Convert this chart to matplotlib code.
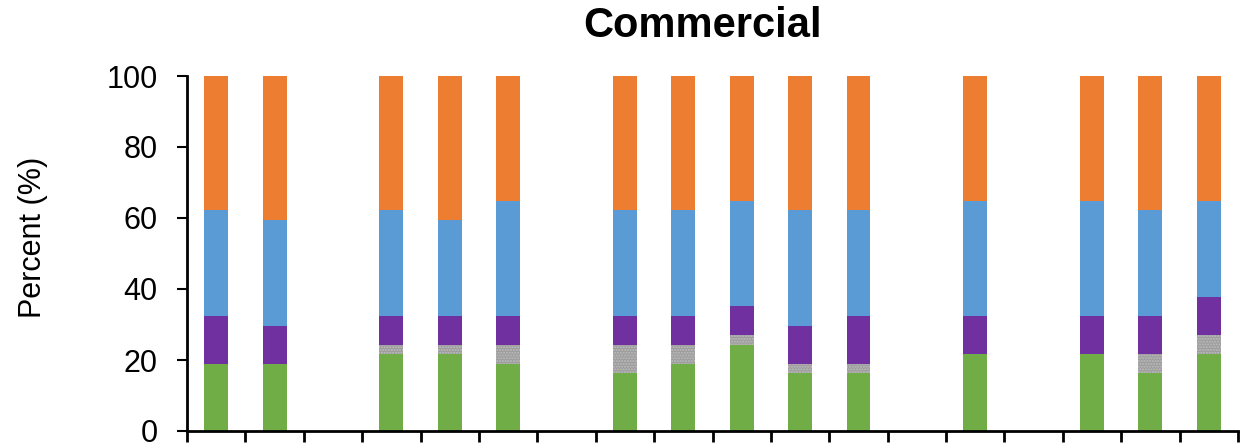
import numpy as np
import matplotlib.pyplot as plt

plt.rcParams['font.family'] = ['Liberation Sans', 'DejaVu Sans']
plt.rcParams['hatch.linewidth'] = 1.0

# 18 slots, zeros in present = empty slot; segment values in percent (stacked bottom-up)
slots = list(range(18))
green  = [18.9, 18.9, 0, 21.6, 21.6, 18.9, 0, 16.2, 18.9, 24.3, 16.2, 16.2, 0, 21.6, 0, 21.6, 16.2, 21.6]
gray   = [0.0,  0.0,  0, 2.7,  2.7,  5.4,  0, 8.1,  5.4,  2.7,  2.7,  2.7,  0, 0.0,  0, 0.0,  5.4,  5.4]
purple = [13.5, 10.8, 0, 8.1,  8.1,  8.1,  0, 8.1,  8.1,  8.1,  10.8, 13.5, 0, 10.8, 0, 10.8, 10.8, 10.8]
blue   = [29.8, 29.8, 0, 29.8, 27.1, 32.5, 0, 29.8, 29.8, 29.8, 32.5, 29.8, 0, 32.5, 0, 32.5, 29.8, 27.1]
present = [1, 1, 0, 1, 1, 1, 0, 1, 1, 1, 1, 1, 0, 1, 0, 1, 1, 1]

green = np.array(green)
gray = np.array(gray)
purple = np.array(purple)
blue = np.array(blue)
present = np.array(present)
orange = np.where(present == 1, 100 - green - gray - purple - blue, 0)

fig = plt.figure(figsize=(12.43, 4.45), dpi=100)
ax = fig.add_axes([187/1243, 14/445, (1238-187)/1243, 355/445])

w = 0.41
x = np.array(slots)
ax.bar(x, green, w, color='#70ad47', linewidth=0)
ax.bar(x, gray, w, bottom=green, color='#9c9c9c', edgecolor='#bdbdbd', hatch='......', linewidth=0)
b2 = green + gray
ax.bar(x, purple, w, bottom=b2, color='#7030a0', linewidth=0)
b3 = b2 + purple
ax.bar(x, blue, w, bottom=b3, color='#5b9bd5', linewidth=0)
b4 = b3 + blue
ax.bar(x, orange, w, bottom=b4, color='#ed7d31', linewidth=0)

ax.set_xlim(-0.5, 17.5)
ax.set_ylim(0, 100)
ax.set_xticks(np.arange(-0.5, 18, 1))
ax.set_xticklabels([])
ax.set_yticks([0, 20, 40, 60, 80, 100])
ax.tick_params(axis='y', labelsize=22, length=7, width=1.5, pad=14)
ax.tick_params(axis='x', length=8, width=2)
for s in ['top', 'right']:
    ax.spines[s].set_visible(False)
for s in ['left', 'bottom']:
    ax.spines[s].set_linewidth(2)

ax.set_ylabel('Percent (%)', fontsize=22)
ax.yaxis.set_label_coords(-0.132, 0.546)

fig.text(703/1243, 1 - 37/445, 'Commercial', fontsize=30, fontweight='bold',
         ha='center', va='baseline')

fig.savefig('out.png', dpi=100)
